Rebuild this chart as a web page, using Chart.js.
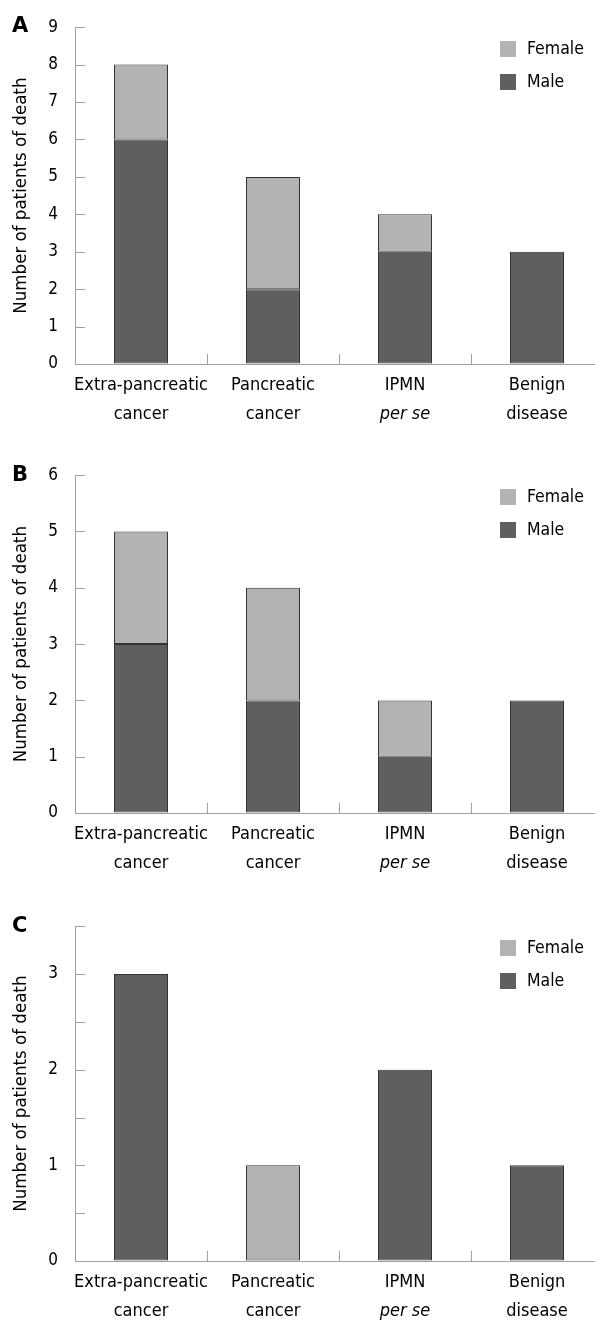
<!DOCTYPE html>
<html>
<head>
<meta charset="utf-8">
<script src="https://cdn.jsdelivr.net/npm/chart.js@4/dist/chart.umd.min.js"></script>
<style>
  html, body { margin: 0; padding: 0; background: #fff; overflow: hidden; }
  body { width: 595px; height: 1325px; position: relative; font-family: "DejaVu Sans Condensed", "DejaVu Sans", sans-serif; }
  .panel { position: absolute; left: 0; width: 610px; }
  .panel canvas { display: block; }
  .tag { position: absolute; left: 12px; font: bold 21px "DejaVu Sans", sans-serif; line-height: 21px; }
</style>
</head>
<body>
<div class="panel" style="top:0px"><canvas id="chartA" width="610" height="434"></canvas></div>
<div class="panel" style="top:448px"><canvas id="chartB" width="610" height="435"></canvas></div>
<div class="panel" style="top:899px"><canvas id="chartC" width="610" height="432"></canvas></div>
<div class="tag" style="top:15px">A</div>
<div class="tag" style="top:464px">B</div>
<div class="tag" style="top:915px">C</div>

<script>
// categories, split in two lines as in the figure
const labelTop = ['Extra-pancreatic', 'Pancreatic', 'IPMN', 'Benign'];
const labelBottom = ['cancer', 'cancer', 'per se', 'disease'];
const labelBottomItalic = [false, false, true, false];

// panel A
const maleA = [6, 2, 3, 3];
const femaleA = [2, 3, 1, 0];
// panel B
const maleB = [3, 2, 1, 2];
const femaleB = [2, 2, 1, 0];
// panel C
const maleC = [3, 0, 2, 1];
const femaleC = [0, 1, 0, 0];

const yMaxA = 9, yStepA = 1;
const yMaxB = 6, yStepB = 1;
const yMaxC = 3.5, yStepC = 0.5;

const maleColor = '#5f5f5f';
const femaleColor = '#b3b3b3';
const barBorder = '#333333';
const axisGray = '#a0a0a0';
const fontFamily = '"DejaVu Sans Condensed", "DejaVu Sans", sans-serif';

// inward ticks, two-line category labels and the legend box
const decor = {
  id: 'decor',
  afterDraw(chart) {
    const ctx = chart.ctx;
    const xs = chart.scales.x, ys = chart.scales.y;
    const area = chart.chartArea;
    ctx.save();
    ctx.strokeStyle = axisGray;
    ctx.lineWidth = 1;
    ys.ticks.forEach((t, i) => {
      const py = Math.round(ys.getPixelForTick(i)) + 0.5;
      ctx.beginPath();
      ctx.moveTo(area.left, py);
      ctx.lineTo(area.left + 10, py);
      ctx.stroke();
    });
    for (let i = 0; i < labelTop.length; i++) {
      const px = Math.round(xs.getPixelForValue(i + 0.5)) + 0.5;
      ctx.beginPath();
      ctx.moveTo(px, area.bottom);
      ctx.lineTo(px, area.bottom - 10);
      ctx.stroke();
    }

    ctx.fillStyle = '#000';
    ctx.textAlign = 'center';
    ctx.textBaseline = 'middle';
    labelTop.forEach((txt, i) => {
      const px = xs.getPixelForValue(i);
      ctx.font = '18px ' + fontFamily;
      ctx.fillText(txt, px, area.bottom + 21);
      ctx.font = (labelBottomItalic[i] ? 'italic ' : '') + '18px ' + fontFamily;
      ctx.fillText(labelBottom[i], px, area.bottom + 50);
    });

    // legend, Female above Male
    const items = chart.data.datasets.slice().reverse();
    ctx.textAlign = 'left';
    ctx.font = '17.5px ' + fontFamily;
    items.forEach((ds, k) => {
      const top = Math.round(area.top) + 14 + k * 33;
      ctx.fillStyle = ds.backgroundColor;
      ctx.fillRect(area.right - 103, top, 16, 16);
      ctx.fillStyle = '#000';
      ctx.fillText(ds.label, area.right - 76, top + 8);
    });
    ctx.restore();
  }
};

function makeChart(id, male, female, yMax, yStep, padTop) {
  return new Chart(document.getElementById(id), {
    type: 'bar',
    data: {
      labels: labelTop.map((t, i) => t + ' ' + labelBottom[i]),
      datasets: [
        { label: 'Male', data: male, backgroundColor: maleColor, borderColor: barBorder, borderWidth: 1, borderSkipped: false },
        { label: 'Female', data: female, backgroundColor: femaleColor, borderColor: barBorder, borderWidth: 1, borderSkipped: false }
      ]
    },
    options: {
      responsive: false,
      animation: false,
      layout: { padding: { top: padTop, right: 7, left: 0, bottom: 0 } },
      plugins: { legend: { display: false }, tooltip: { enabled: false } },
      datasets: { bar: { barThickness: 54, inflateAmount: 0 } },
      scales: {
        x: {
          stacked: true,
          grid: { display: true, drawOnChartArea: false, drawTicks: false },
          border: { display: true, color: axisGray, width: 1 },
          ticks: { display: false },
          afterFit: s => { s.height = 70; }
        },
        y: {
          stacked: true,
          min: 0,
          max: yMax,
          grid: { display: true, drawOnChartArea: false, drawTicks: false },
          border: { display: true, color: axisGray, width: 1 },
          ticks: {
            stepSize: yStep,
            padding: 17,
            color: '#000',
            font: { family: fontFamily, size: 17 },
            callback: v => Number.isInteger(v) ? v : ''
          },
          title: {
            display: true,
            text: 'Number of patients of death',
            color: '#000',
            font: { family: fontFamily, size: 18.5 },
            padding: { top: 10, bottom: 0 }
          },
          afterFit: s => { s.width = 75; }
        }
      }
    },
    plugins: [decor]
  });
}

makeChart('chartA', maleA, femaleA, yMaxA, yStepA, 22);
makeChart('chartB', maleB, femaleB, yMaxB, yStepB, 23);
makeChart('chartC', maleC, femaleC, yMaxC, yStepC, 22.5);
</script>
</body>
</html>
